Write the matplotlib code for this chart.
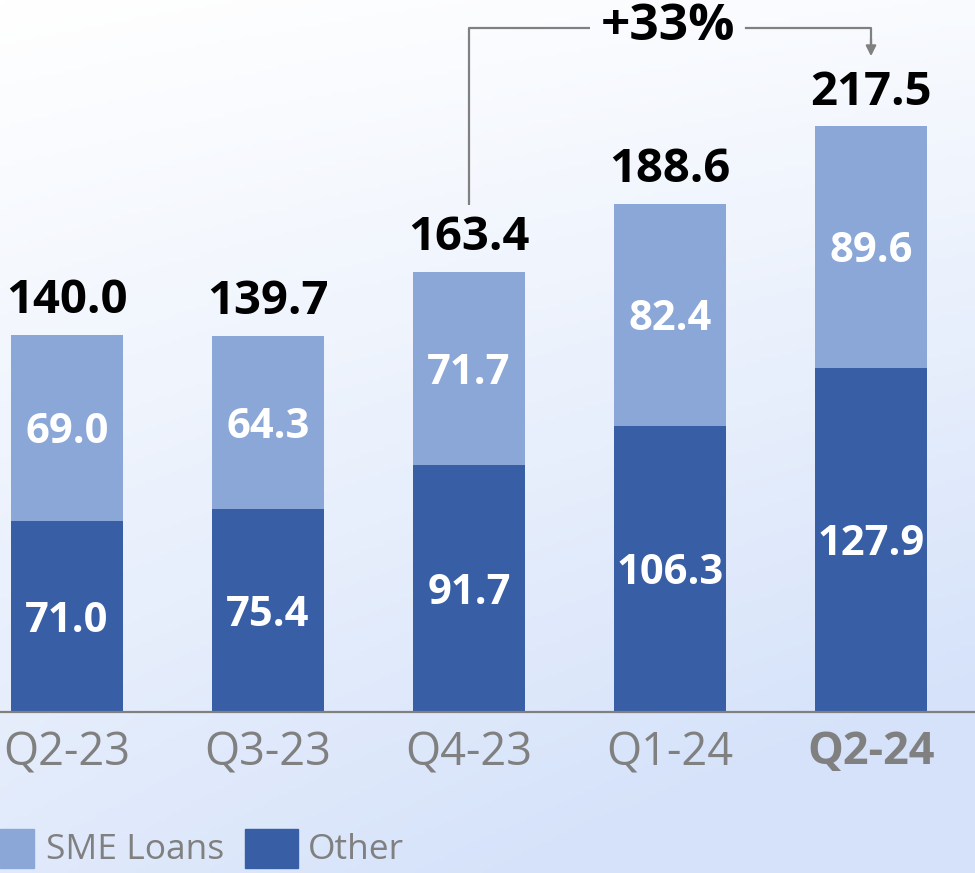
import matplotlib
matplotlib.use("Agg")
import matplotlib.pyplot as plt
import numpy as np
from matplotlib.patches import Rectangle

categories = ["Q2-23", "Q3-23", "Q4-23", "Q1-24", "Q2-24"]
other = [71.0, 75.4, 91.7, 106.3, 127.9]
sme = [69.0, 64.3, 71.7, 82.4, 89.6]
totals = [140.0, 139.7, 163.4, 188.6, 217.5]
growth_label = "+33%"

DARK = "#385EA6"
LIGHT = "#8BA7D8"
GRAY = "#808080"
FONT = "Open Sans"

W, H = 975, 873
fig = plt.figure(figsize=(W / 100, H / 100), dpi=100)

# background gradient
bg = fig.add_axes([0, 0, 1, 1], zorder=0)
yy, xx = np.mgrid[0:1:200j, 0:1:200j]
t = np.clip(0.75 * yy + 0.35 * xx * yy + 0.15 * xx, 0, 1)
top = np.array([1.0, 1.0, 1.0])
bot = np.array([0.84, 0.89, 0.98])
img = top[None, None, :] * (1 - t[..., None]) + bot[None, None, :] * t[..., None]
bg.imshow(img, aspect="auto", extent=[0, 1, 0, 1], origin="upper")
bg.axis("off")

px_per_unit = 201.0
x0 = 67.0
base_px = 712.0
scale = 2.693
ax = fig.add_axes([0, (H - base_px) / H, 1, base_px / H], zorder=1)
ax.patch.set_alpha(0)
x = np.arange(len(categories))
ax.set_xlim(-x0 / px_per_unit, (W - x0) / px_per_unit)
ax.set_ylim(0, base_px / scale)

bw = 112 / px_per_unit
ax.bar(x, other, width=bw, color=DARK, zorder=2)
ax.bar(x, sme, width=bw, bottom=other, color=LIGHT, zorder=2)

for i in range(len(categories)):
    ax.text(x[i], other[i] / 2 - 1.8, f"{other[i]:.1f}", ha="center", va="center",
            color="white", fontsize=30, fontweight="bold", family=FONT)
    ax.text(x[i], other[i] + sme[i] / 2 - 1.8, f"{sme[i]:.1f}", ha="center", va="center",
            color="white", fontsize=30, fontweight="bold", family=FONT)
    ax.text(x[i], totals[i] + 4.0, f"{totals[i]:.1f}", ha="center", va="bottom",
            color="black", fontsize=34, fontweight="bold", family=FONT)

for s in ["top", "right", "left"]:
    ax.spines[s].set_visible(False)
ax.spines["bottom"].set_color(GRAY)
ax.spines["bottom"].set_linewidth(1.6)
ax.set_yticks([])
ax.set_xticks(x)
ax.set_xticklabels(categories, family=FONT, fontsize=32.5, color=GRAY)
ax.tick_params(axis="x", length=0, pad=13)
ax.get_xticklabels()[-1].set_fontweight("bold")

# growth bracket
y_top = 254.0
y_start = totals[2] + 25
y_tip = 242.5
ax.plot([x[2], x[2], 2.6], [y_start, y_top, y_top], color=GRAY, lw=1.6, zorder=3,
        solid_capstyle="butt")
ax.plot([3.38, x[4], x[4]], [y_top, y_top, y_tip + 4], color=GRAY, lw=1.6, zorder=3)
ax.annotate("", xy=(x[4], y_tip), xytext=(x[4], y_top - 3),
            arrowprops=dict(arrowstyle="-|>,head_length=0.6,head_width=0.3",
                            color=GRAY, lw=1.6))
ax.text((2.6 + 3.38) / 2, y_top + 0.5, growth_label, ha="center", va="center",
        fontsize=37, fontweight="bold", family=FONT, color="black")

# legend
fig.patches.append(Rectangle((0, (H - 868) / H), 34 / W, 39 / H,
                             transform=fig.transFigure, color=LIGHT, zorder=2))
fig.text(46 / W, (H - 850) / H, "SME Loans", ha="left", va="center",
         fontsize=25.5, family=FONT, color=GRAY, zorder=3)
fig.patches.append(Rectangle((245 / W, (H - 868) / H), 53 / W, 39 / H,
                             transform=fig.transFigure, color=DARK, zorder=2))
fig.text(308 / W, (H - 850) / H, "Other", ha="left", va="center",
         fontsize=25.5, family=FONT, color=GRAY, zorder=3)

fig.savefig("out.png", dpi=100)
